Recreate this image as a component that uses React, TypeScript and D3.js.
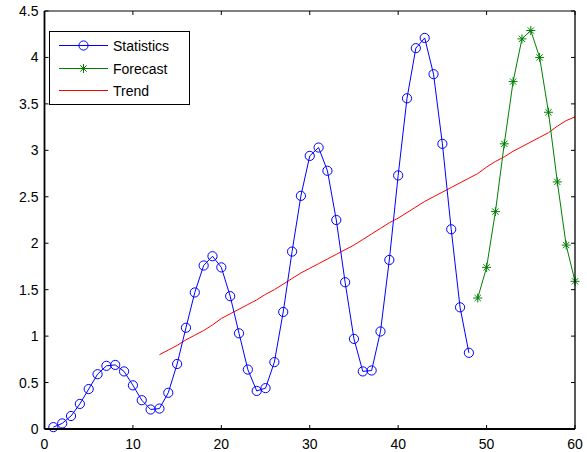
import React from "react";
import * as d3 from "d3";

const statX = d3.range(1, 49);
const statValues = [
  0.02, 0.06, 0.14, 0.27, 0.43, 0.59, 0.68, 0.69, 0.62, 0.47, 0.31, 0.21,
  0.22, 0.39, 0.70, 1.09, 1.47, 1.76, 1.86, 1.74, 1.43, 1.03, 0.64, 0.41,
  0.44, 0.72, 1.26, 1.91, 2.51, 2.94, 3.03, 2.78, 2.25, 1.58, 0.97, 0.62,
  0.63, 1.05, 1.82, 2.73, 3.56, 4.10, 4.21, 3.82, 3.07, 2.15, 1.31, 0.82,
];
const forecastX = d3.range(49, 61);
const forecastValues = [1.41, 1.74, 2.34, 3.07, 3.74, 4.20, 4.29, 4.00, 3.41, 2.66, 1.98, 1.59];
const trendX = d3.range(13, 61);
const trendValues = [
  0.80, 0.85, 0.90, 0.96, 1.01, 1.06, 1.12, 1.19, 1.24, 1.29, 1.34, 1.39,
  1.45, 1.50, 1.56, 1.62, 1.68, 1.73, 1.78, 1.83, 1.88, 1.93, 1.98, 2.04,
  2.10, 2.16, 2.22, 2.27, 2.33, 2.39, 2.45, 2.50, 2.55, 2.60, 2.65, 2.70,
  2.75, 2.82, 2.88, 2.93, 2.99, 3.04, 3.09, 3.14, 3.19, 3.26, 3.32, 3.36,
];
const xTicks = [0, 10, 20, 30, 40, 50, 60];
const yTicks = [0, 0.5, 1, 1.5, 2, 2.5, 3, 3.5, 4, 4.5];
const legendLabels = ["Statistics", "Forecast", "Trend"];

const W = 587, H = 452;
const L = 44.5, R = 575, T = 11, B = 429;
const FONT = "'Liberation Sans', Arial, sans-serif";

function Asterisk({ cx, cy, s, color }: { cx: number; cy: number; s: number; color: string }) {
  const d = s * 0.7;
  return (
    <g stroke={color} strokeWidth={1}>
      <line x1={cx - s} y1={cy} x2={cx + s} y2={cy} />
      <line x1={cx} y1={cy - s} x2={cx} y2={cy + s} />
      <line x1={cx - d} y1={cy - d} x2={cx + d} y2={cy + d} />
      <line x1={cx - d} y1={cy + d} x2={cx + d} y2={cy - d} />
    </g>
  );
}

export default function App() {
  const x = d3.scaleLinear().domain([0, 60]).range([L, R]);
  const y = d3.scaleLinear().domain([0, 4.5]).range([B, T]);
  const line = d3
    .line<[number, number]>()
    .x((d) => x(d[0]))
    .y((d) => y(d[1]));
  const statPts: [number, number][] = statX.map((v, i) => [v, statValues[i]]);
  const fcPts: [number, number][] = forecastX.map((v, i) => [v, forecastValues[i]]);
  const trPts: [number, number][] = trendX.map((v, i) => [v, trendValues[i]]);
  const tk = 4;
  const blue = "#0000ff", green = "#008000", red = "#ff0000";
  const lgX = 49.5, lgY = 31.5, lgW = 140, lgH = 73;
  const rows = [45.5, 68.5, 90.5];
  return (
    <svg width={W} height={H} style={{ position: "absolute", left: 0, top: 0, background: "#fff" }}>
      <rect x={0} y={0} width={W} height={H} fill="#fff" />
      <path d={line(trPts) ?? ""} fill="none" stroke={red} strokeWidth={1} />
      <path d={line(statPts) ?? ""} fill="none" stroke={blue} strokeWidth={1} />
      {statPts.map((p, i) => (
        <circle key={i} cx={x(p[0])} cy={y(p[1])} r={4.6} fill="none" stroke={blue} strokeWidth={1} />
      ))}
      <path d={line(fcPts) ?? ""} fill="none" stroke={green} strokeWidth={1} />
      {fcPts.map((p, i) => (
        <Asterisk key={i} cx={x(p[0])} cy={y(p[1])} s={4.5} color={green} />
      ))}
      {/* frame */}
      <line x1={L} x2={R} y1={T} y2={T} stroke="#000" strokeWidth={1.2} />
      <line x1={R} x2={R} y1={T} y2={B} stroke="#000" strokeWidth={1.3} />
      <line x1={L} x2={R} y1={B} y2={B} stroke="#000" strokeWidth={1.8} />
      <line x1={L} x2={L} y1={T} y2={B} stroke="#000" strokeWidth={1.8} />
      {xTicks.map((t) => (
        <g key={"x" + t}>
          <line x1={x(t)} x2={x(t)} y1={B} y2={B - tk} stroke="#000" strokeWidth={1} />
          <line x1={x(t)} x2={x(t)} y1={T} y2={T + tk} stroke="#000" strokeWidth={1} />
          <text x={x(t)} y={B + 20} textAnchor="middle" fontFamily={FONT} fontSize={14} fill="#000">
            {t}
          </text>
        </g>
      ))}
      {yTicks.map((t) => (
        <g key={"y" + t}>
          <line x1={L} x2={L + tk} y1={y(t)} y2={y(t)} stroke="#000" strokeWidth={1} />
          <line x1={R} x2={R - tk} y1={y(t)} y2={y(t)} stroke="#000" strokeWidth={1} />
          <text x={L - 6} y={y(t) + 5} textAnchor="end" fontFamily={FONT} fontSize={14} fill="#000">
            {t}
          </text>
        </g>
      ))}
      {/* legend */}
      <rect x={lgX} y={lgY} width={lgW} height={lgH} fill="#fff" stroke="#000" strokeWidth={1} />
      {legendLabels.map((lab, i) => {
        const cy = rows[i];
        const color = [blue, green, red][i];
        return (
          <g key={lab}>
            <line x1={59} x2={108} y1={cy} y2={cy} stroke={color} strokeWidth={1} />
            {i === 0 && <circle cx={83.5} cy={cy} r={4.6} fill="none" stroke={blue} strokeWidth={1} />}
            {i === 1 && <Asterisk cx={83.5} cy={cy} s={4.5} color={green} />}
            <text x={113} y={cy + 5} fontFamily={FONT} fontSize={14} fill="#000">
              {lab}
            </text>
          </g>
        );
      })}
    </svg>
  );
}
